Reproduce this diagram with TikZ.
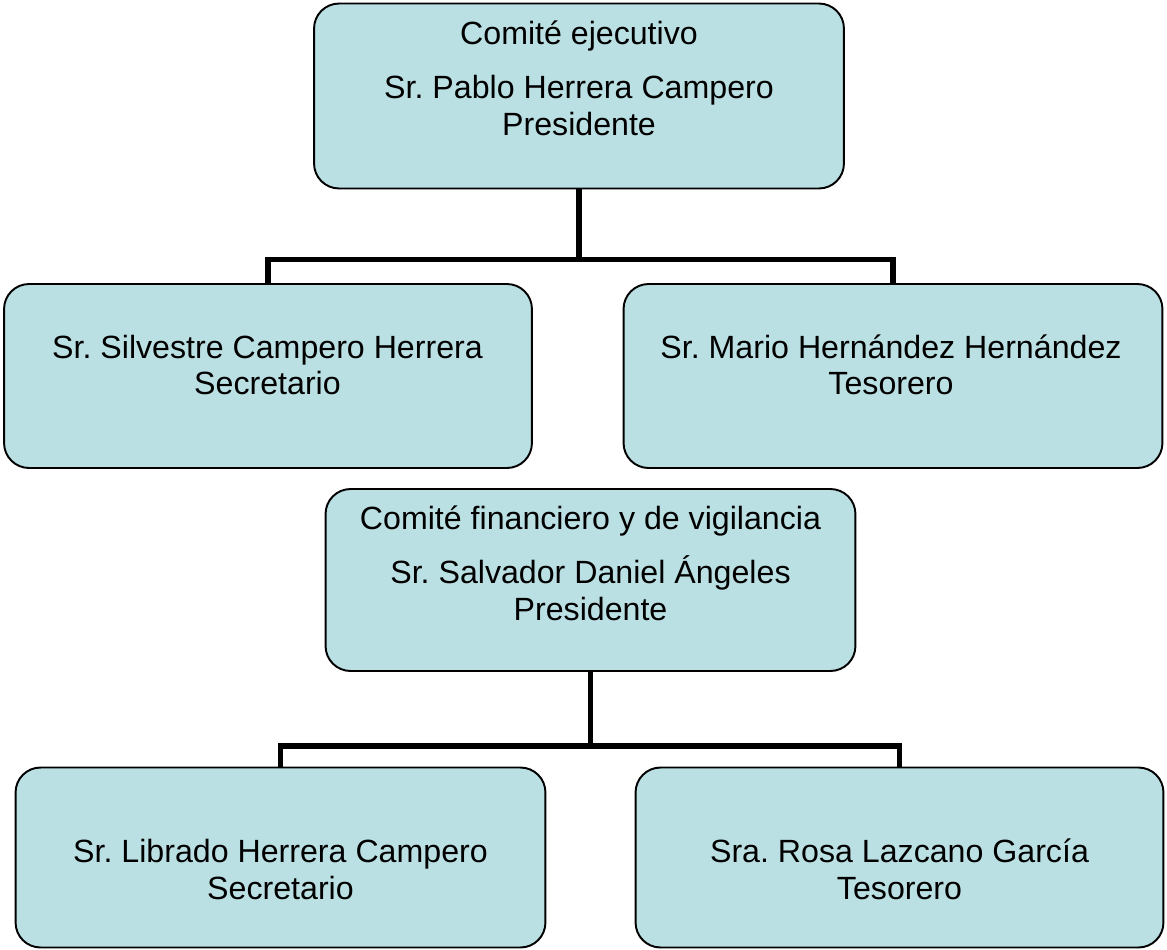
\documentclass[tikz,border=0pt]{standalone}
\usepackage{fontspec}
\setmainfont{Liberation Sans}
\frenchspacing
\usetikzlibrary{positioning}
\definecolor{celeste}{HTML}{BBE0E3}
\tikzstyle{cargo}=[rectangle,rounded corners=0.5cm,draw=black,line width=1.1pt,fill=celeste,inner sep=0pt]
\tikzstyle{texto}=[align=center,inner sep=0pt,font=\fontsize{18.3}{20.8}\selectfont]
\tikzstyle{enlace}=[draw,line width=3.2pt]

\begin{document}
\begin{tikzpicture}[x=0.02cm,y=-0.02cm]
  \useasboundingbox (0,0) rectangle (1167,950);

    % cajas
    \foreach \pos/\name/\ancho/\alto in {{(579,96)/ejec/10.6/3.7}, {(268,376)/secrA/10.56/3.68}, {(893,376)/tesoA/10.78/3.68}, {(590.5,580)/vigi/10.6/3.64}, {(280.5,857.5)/secrB/10.6/3.6}, {(899.5,857.5)/tesoB/10.56/3.6}}
       \node[cargo, minimum width=\ancho cm, minimum height=\alto cm] (\name) at \pos {};

    % textos
    \node[texto] (ejec-t) at (579,78) {Comité ejecutivo\\[0.36cm]Sr. Pablo Herrera Campero\\Presidente};
    \node[texto] (secrA-t) at (267.5,365) {Sr. Silvestre Campero Herrera\\Secretario};
    \node[texto] (tesoA-t) at (891,365) {Sr. Mario Hernández Hernández\\Tesorero};
    \node[texto] (vigi-t) at (590.5,563) {Comité financiero y de vigilancia\\[0.36cm]Sr. Salvador Daniel Ángeles\\Presidente};
    \node[texto] (secrB-t) at (280.5,869.5) {Sr. Librado Herrera Campero\\Secretario};
    \node[texto] (tesoB-t) at (899.5,869.5) {Sra. Rosa Lazcano García\\Tesorero};

    % lineas
    \coordinate (busA) at (0,259.5);
    \coordinate (busB) at (0,746);
    \path[enlace] (ejec.south) -- (ejec.south |- busA) -| (secrA.north);
    \path[enlace] (ejec.south |- busA) -| (tesoA.north);
    \path[enlace] (vigi.south) -- (vigi.south |- busB) -| (secrB.north);
    \path[enlace] (vigi.south |- busB) -| (tesoB.north);

\end{tikzpicture}
\end{document}
